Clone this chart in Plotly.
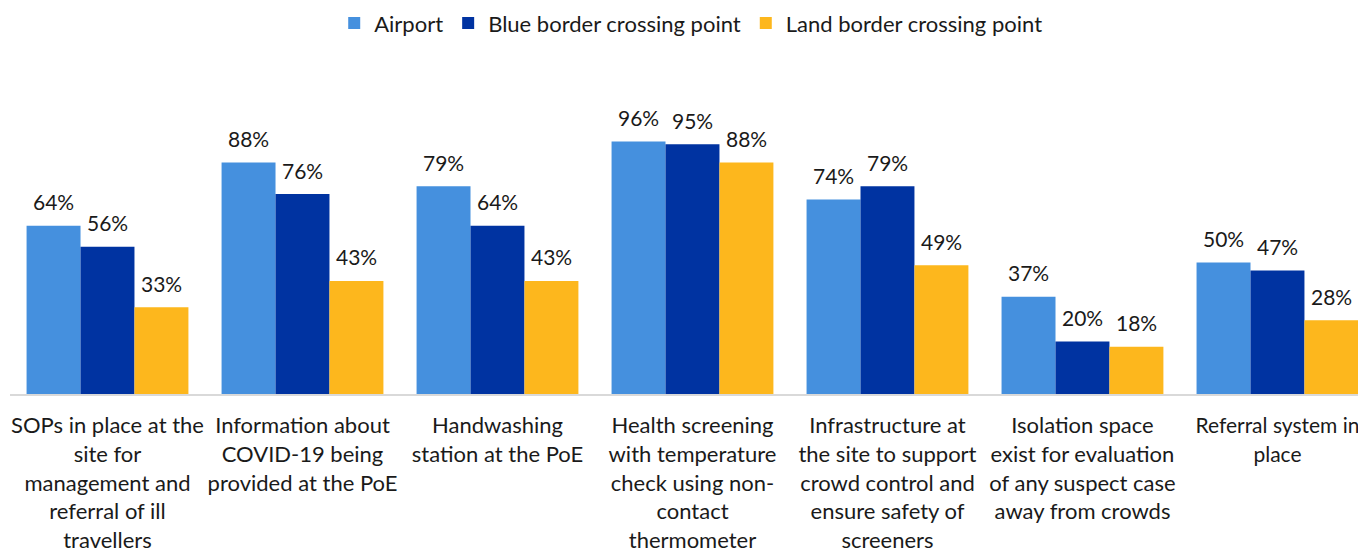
"""Grouped bar chart: PoE preparedness measures by type of crossing point."""

import plotly.graph_objects as go

CATEGORIES = [
    "SOPs in place at the<br>site for<br>management and<br>referral of ill<br>travellers",
    "Information about<br>COVID-19 being<br>provided at the PoE",
    "Handwashing<br>station at the PoE",
    "Health screening<br>with temperature<br>check using non-<br>contact<br>thermometer",
    "Infrastructure at<br>the site to support<br>crowd control and<br>ensure safety of<br>screeners",
    "Isolation space<br>exist for evaluation<br>of any suspect case<br>away from crowds",
    "Referral system in<br>place",
]

AIRPORT = [64, 88, 79, 96, 74, 37, 50]
BLUE_BORDER = [56, 76, 64, 95, 79, 20, 47]
LAND_BORDER = [33, 43, 43, 88, 49, 18, 28]

SERIES = [
    ("Airport", AIRPORT, "#4590DE"),
    ("Blue border crossing point", BLUE_BORDER, "#0033A1"),
    ("Land border crossing point", LAND_BORDER, "#FDB71D"),
]

FONT = "Lato, 'Open Sans', Arial, sans-serif"
TEXT_COLOR = "#1a1a1a"
BARGAP = 0.17


def tick_labels() -> list[str]:
    # the last label sits against the right edge; Lato runs a touch wider
    # than the original font, so squeeze it slightly to keep it on the page
    labels = list(CATEGORIES)
    labels[-1] = f'<span style="font-size:21px">{labels[-1]}</span>'
    return labels


def build_figure() -> go.Figure:
    fig = go.Figure()
    for name, values, color in SERIES:
        fig.add_trace(
            go.Bar(
                x=list(range(len(CATEGORIES))),
                y=values,
                name=name,
                marker=dict(color=color, line=dict(width=0)),
                hovertemplate="%{y}%<extra>" + name + "</extra>",
            )
        )

    # value labels sit a bit higher above the bars than plotly's outside text
    bar_w = (1 - BARGAP) / len(SERIES)
    annotations = []
    for j, (_, values, _) in enumerate(SERIES):
        offset = (j - (len(SERIES) - 1) / 2) * bar_w
        for i, v in enumerate(values):
            annotations.append(
                dict(
                    x=i + offset,
                    y=v,
                    xref="x",
                    yref="y",
                    text=f"{v}%",
                    showarrow=False,
                    yshift=24,
                    yanchor="middle",
                    font=dict(size=21, color=TEXT_COLOR, family=FONT),
                )
            )

    # page body has an 8px margin, so the figure is 8px smaller than the window
    fig.update_layout(
        width=1358,
        height=546,
        barmode="group",
        bargap=BARGAP,
        bargroupgap=0,
        plot_bgcolor="white",
        paper_bgcolor="white",
        margin=dict(l=2, r=0, t=123, b=160, autoexpand=False),
        font=dict(family=FONT, size=21, color=TEXT_COLOR),
        legend=dict(
            orientation="h",
            x=0.502,
            xanchor="center",
            y=1.41,
            yanchor="middle",
            font=dict(size=22),
            itemwidth=30,
        ),
        xaxis=dict(
            tickmode="array",
            tickvals=list(range(len(CATEGORIES))),
            ticktext=tick_labels(),
            tickangle=0,
            range=[-0.5, 6.454],
            showline=True,
            linecolor="#D9D9D9",
            linewidth=2,
            ticks="",
            ticklabelstandoff=11,
            showgrid=False,
            tickfont=dict(size=22),
            automargin=False,
        ),
        yaxis=dict(
            range=[0, 100],
            visible=False,
            showgrid=False,
            zeroline=False,
        ),
        annotations=annotations,
        showlegend=True,
    )
    return fig


fig = build_figure()
fig.write_html("out.html")
